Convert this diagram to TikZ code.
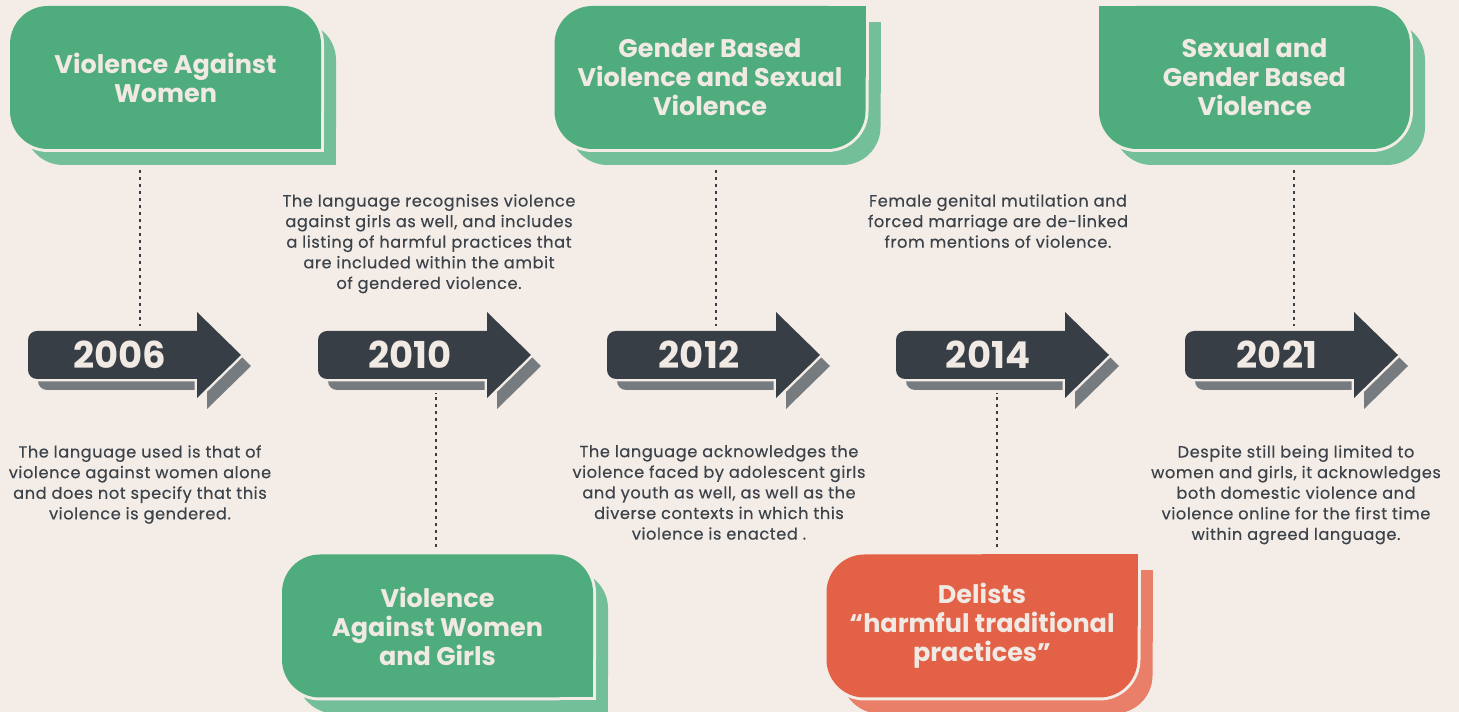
\documentclass[tikz,border=0pt]{standalone}
\usepackage{fontspec}
\setmainfont{Poppins}
\usepackage{tikz}
\usetikzlibrary{calc}
\definecolor{bgc}{HTML}{F3ECE7}
\definecolor{greenc}{HTML}{4FAC7D}
\definecolor{greensh}{HTML}{72BF99}
\definecolor{redc}{HTML}{E36247}
\definecolor{redsh}{HTML}{E97E69}
\definecolor{darkc}{HTML}{373E45}
\definecolor{darksh}{HTML}{767B7F}
\definecolor{inkc}{HTML}{3B4249}
\definecolor{paperc}{HTML}{F1E9E3}
\tikzset{
  ttl/.style={minimum width=311,minimum height=143,inner sep=0pt,align=center,text=paperc,font=\fontsize{25.5}{29}\selectfont\bfseries},
  yr/.style={minimum height=48,inner sep=0pt,text=paperc,font=\fontsize{37}{40}\selectfont\bfseries},
  note/.style={anchor=north,inner sep=0pt,align=center,text=inkc,font=\fontsize{16.2}{20.6}\selectfont\addfontfeature{LetterSpace=3.5,FakeBold=0.3}},
  dotl/.style={darkc,line width=1.5,dash pattern=on 3pt off 4pt}
}
% box with shadow: name, x, y, fill, shadow, sx, sy (square corner), text
\newcommand{\tagbox}[8]{%
  \begin{scope}[shift={(#2,#3)}]
  \fill[#5,rounded corners=38] (-140.5,-87.5) rectangle (170.5,55.5);
  \fill[#5] (15,-16) rectangle ++({155.5*#6},{71.5*#7});
  \draw[bgc,line width=6,rounded corners=38] (-155.5,-71.5) rectangle (155.5,71.5);
  \draw[bgc,line width=6] (0,0) rectangle ({155.5*#6},{71.5*#7});
  \fill[#4,rounded corners=38] (-155.5,-71.5) rectangle (155.5,71.5);
  \fill[#4] (0,0) rectangle ({155.5*#6},{71.5*#7});
  \node[ttl] (#1) at (0,0) {#8};
  \end{scope}}
% year arrow: name, left x, year
\newcommand{\yeararrow}[3]{%
  \begin{scope}[shift={(#2,357)}]
  \fill[darksh,rounded corners=9] (10,-35) rectangle (190,13);
  \fill[darksh] (179,32) -- (223,-11) -- (179,-54) -- cycle;
  \draw[bgc,line width=5,rounded corners=9] (0,-24) rectangle (180,24);
  \draw[bgc,line width=5] (169,43) -- (213,0) -- (169,-43) -- cycle;
  \fill[darkc,rounded corners=9] (0,-24) rectangle (180,24);
  \fill[darkc] (169,43) -- (213,0) -- (169,-43) -- cycle;
  \node[yr] (#1) at (92,0) {#3};
  \end{scope}}

\begin{document}
\begin{tikzpicture}[x=1pt,y=1pt]
\fill[bgc] (0,0) rectangle (1459,712);
\useasboundingbox (0,0) rectangle (1459,712);
% timeline
\yeararrow{y06}{28}{2006}
\yeararrow{y10}{318}{2010}
\yeararrow{y12}{607}{2012}
\yeararrow{y14}{896}{2014}
\yeararrow{y21}{1185}{2021}
% terms used each year
\tagbox{vaw}{165.5}{634.5}{greenc}{greensh}{1}{-1}{Violence Against\\Women}
\tagbox{gbv}{710}{634.5}{greenc}{greensh}{1}{1}{Gender Based\\Violence and Sexual\\Violence}
\tagbox{sgbv}{1254.5}{634.5}{greenc}{greensh}{-1}{1}{Sexual and\\Gender Based\\Violence}
\tagbox{vawg}{437.5}{86}{greenc}{greensh}{1}{-1}{Violence\\Against Women\\and Girls}
\tagbox{delist}{982}{86}{redc}{redsh}{1}{1}{Delists\\“harmful traditional\\practices”}
% notes
\node[note] (t06) at (140,267) {The language used is that of\\violence against women alone\\and does not specify that this\\violence is gendered.};
\node[note] (t10) at (429,518) {The language recognises violence\\against girls as well, and includes\\a listing of harmful practices that\\are included within the ambit\\of gendered violence.};
\node[note] (t12) at (719,267) {The language acknowledges the\\violence faced by adolescent girls\\and youth as well, as well as the\\diverse contexts in which this\\violence is enacted .};
\node[note] (t14) at (998,518) {Female genital mutilation and\\forced marriage are de-linked\\from mentions of violence.};
\node[note] (t21) at (1296,267) {Despite still being limited to\\women and girls, it acknowledges\\both domestic violence and\\violence online for the first time\\within agreed language.};
% dotted links
\draw[dotl,shorten <=21,shorten >=5] ([xshift=-25.5]vaw.south) -- ([xshift=-25.5]vaw.south |- y06.north);
\draw[dotl,shorten <=21,shorten >=5] ([xshift=6]gbv.south) -- ([xshift=6]gbv.south |- y12.north);
\draw[dotl,shorten <=21,shorten >=5] ([xshift=39.5]sgbv.south) -- ([xshift=39.5]sgbv.south |- y21.north);
\draw[dotl,shorten <=7,shorten >=14] ([xshift=-1.5]vawg.north) -- ([xshift=-1.5]vawg.north |- y10.south);
\draw[dotl,shorten <=7,shorten >=14] ([xshift=15]delist.north) -- ([xshift=15]delist.north |- y14.south);
\end{tikzpicture}
\end{document}
